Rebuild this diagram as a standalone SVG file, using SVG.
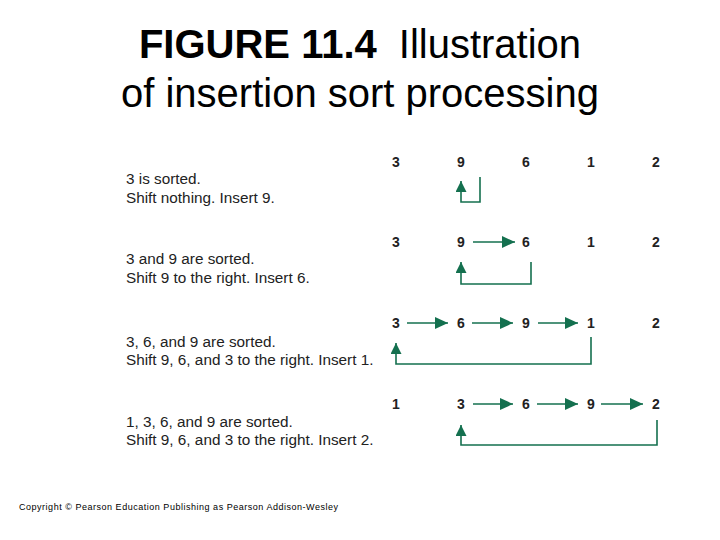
<svg xmlns="http://www.w3.org/2000/svg" width="720" height="540" viewBox="0 0 720 540">
<style>
.title{font-family:"Liberation Sans",Arial,sans-serif;font-size:40px;fill:#000}
.desc{font-family:"Liberation Sans",Arial,sans-serif;font-size:15.3px;fill:#222}
.num{font-family:"Liberation Sans",Arial,sans-serif;font-size:14px;font-weight:bold;fill:#222;text-anchor:middle}
.copy{font-family:"Liberation Sans",Arial,sans-serif;font-size:9px;fill:#000}
.ln{fill:none;stroke:#14704f;stroke-width:1.6}
</style>
<defs>
<marker id="ah" markerUnits="userSpaceOnUse" markerWidth="14" markerHeight="12" refX="13" refY="6" orient="auto">
<polygon points="0,0 13,6 0,12" fill="#14704f"/>
</marker>
<marker id="au" markerUnits="userSpaceOnUse" markerWidth="12" markerHeight="12" refX="11" refY="5.5" orient="auto">
<polygon points="0,0 11,5.5 0,11" fill="#14704f"/>
</marker>
</defs>
<rect width="720" height="540" fill="#fff"/>
<g id="title">
<text class="title" x="360" y="58" text-anchor="middle"><tspan font-weight="bold">FIGURE 11.4</tspan><tspan dx="22">Illustration</tspan></text>
<text class="title" x="360" y="107" text-anchor="middle">of insertion sort processing</text>
</g>
<g id="step1">
<text class="desc" x="126" y="184">3 is sorted.</text>
<text class="desc" x="126" y="203">Shift nothing. Insert 9.</text>
<text class="num" x="396" y="167">3</text><text class="num" x="461" y="167">9</text><text class="num" x="526" y="167">6</text><text class="num" x="591" y="167">1</text><text class="num" x="656" y="167">2</text>
</g>
<g id="step2">
<text class="desc" x="126" y="264">3 and 9 are sorted.</text>
<text class="desc" x="126" y="283">Shift 9 to the right. Insert 6.</text>
<text class="num" x="396" y="247">3</text><text class="num" x="461" y="247">9</text><text class="num" x="526" y="247">6</text><text class="num" x="591" y="247">1</text><text class="num" x="656" y="247">2</text>
</g>
<g id="step3">
<text class="desc" x="126" y="347">3, 6, and 9 are sorted.</text>
<text class="desc" x="126" y="365">Shift 9, 6, and 3 to the right. Insert 1.</text>
<text class="num" x="396" y="328">3</text><text class="num" x="461" y="328">6</text><text class="num" x="526" y="328">9</text><text class="num" x="591" y="328">1</text><text class="num" x="656" y="328">2</text>
</g>
<g id="step4">
<text class="desc" x="126" y="427">1, 3, 6, and 9 are sorted.</text>
<text class="desc" x="126" y="445">Shift 9, 6, and 3 to the right. Insert 2.</text>
<text class="num" x="396" y="409">1</text><text class="num" x="461" y="409">3</text><text class="num" x="526" y="409">6</text><text class="num" x="591" y="409">9</text><text class="num" x="656" y="409">2</text>
</g>
<g id="connectors">
<polyline class="ln" points="480,177 480,202 461,202 461,181" marker-end="url(#au)"/>
<line class="ln" x1="473" y1="242" x2="515" y2="242" marker-end="url(#ah)"/>
<polyline class="ln" points="531,262 531,284 461,284 461,262" marker-end="url(#au)"/>
<line class="ln" x1="407" y1="323" x2="448" y2="323" marker-end="url(#ah)"/>
<line class="ln" x1="472" y1="323" x2="513" y2="323" marker-end="url(#ah)"/>
<line class="ln" x1="538" y1="323" x2="578" y2="323" marker-end="url(#ah)"/>
<polyline class="ln" points="591,337 591,364 396,364 396,343" marker-end="url(#au)"/>
<line class="ln" x1="473" y1="404" x2="513" y2="404" marker-end="url(#ah)"/>
<line class="ln" x1="537" y1="404" x2="578" y2="404" marker-end="url(#ah)"/>
<line class="ln" x1="601" y1="404" x2="643" y2="404" marker-end="url(#ah)"/>
<polyline class="ln" points="657,420 657,445 461,445 461,425" marker-end="url(#au)"/>
</g>
<text class="copy" x="19" y="510" textLength="319" lengthAdjust="spacing">Copyright © Pearson Education Publishing as Pearson Addison-Wesley</text>
</svg>
